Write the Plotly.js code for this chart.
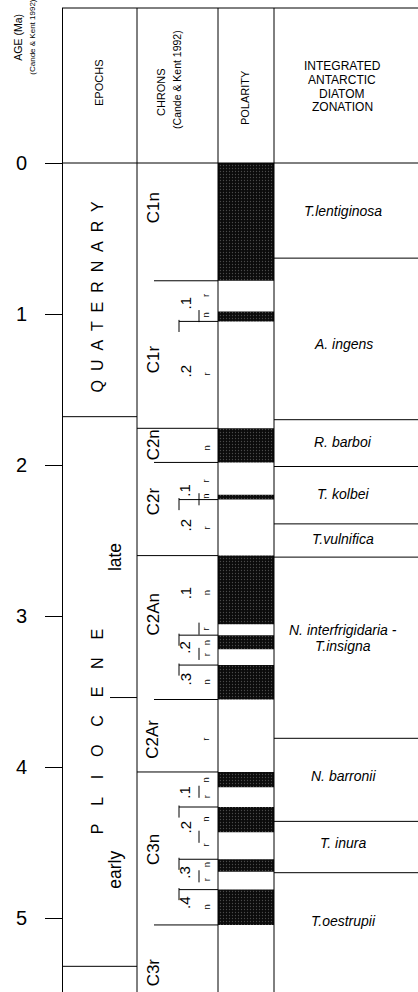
<!DOCTYPE html>
<html><head><meta charset="utf-8">
<script src="https://cdn.plot.ly/plotly-3.0.1.min.js"></script>
<style>html,body{margin:0;padding:0;background:#fff}#chart{width:418px;height:992px}</style>
</head><body><div id="chart"></div>
<script>
// ---- data (ages in Ma) ----
const ageTicks = [0, 1, 2, 3, 4, 5];
const normalStart = [0.000, 0.984, 1.757, 2.197, 2.600, 3.127, 3.325, 4.033, 4.265, 4.611, 4.812];
const normalEnd   = [0.780, 1.049, 1.983, 2.229, 3.054, 3.221, 3.553, 4.134, 4.432, 4.694, 5.046];

const epochBounds = [1.68, 5.32];
const subEpochBounds = [3.54];
const epochLabels = ["QUATERNARY", "PLIOCENE"];
const epochLabelAges = [0.89, 3.77];
const subEpochLabels = ["late", "early"];
const subEpochLabelAges = [2.61, 4.68];

const chronNames = ["C1n", "C1r", "C2n", "C2r", "C2An", "C2Ar", "C3n", "C3r"];
const chronLabelAges = [0.30, 1.30, 1.87, 2.24, 2.99, 3.82, 4.55, 5.36];
const seriesBounds = [1.757, 2.600, 4.033];
const chronBounds = [0.780, 1.983, 3.553, 5.046];
const subchronBounds = [1.049, 2.229, 3.127, 3.325, 4.265, 4.611, 4.812];
const nrBounds = [0.984, 2.197, 3.054, 3.221, 4.134, 4.432, 4.694];
const subchronLabels = [".1", ".2", ".1", ".2", ".1", ".2", ".3", ".1", ".2", ".3", ".4"];
const subchronLabelAges = [0.93, 1.38, 2.17, 2.40, 2.85, 3.21, 3.42, 4.17, 4.40, 4.70, 4.90];
const nrLabels = ["r", "n", "r", "n", "r", "n", "r", "n", "r", "n", "r", "n", "r", "n", "r", "n", "r", "n", "r", "n"];
const nrLabelAges = [0.88, 1.01, 1.40, 1.89, 2.11, 2.21, 2.42, 2.85, 3.09, 3.18, 3.26, 3.44, 3.82, 4.09, 4.20, 4.35, 4.52, 4.65, 4.75, 4.93];

const zoneNames = ["T.lentiginosa", "A. ingens", "R. barboi", "T. kolbei", "T.vulnifica",
                   "N. interfrigidaria -", "T.insigna", "N. barronii", "T. inura", "T.oestrupii"];
const zoneLabelAges = [0.32, 1.20, 1.85, 2.19, 2.49, 3.09, 3.20, 4.06, 4.50, 5.02];
const zoneBounds = [0.63, 1.70, 2.01, 2.39, 2.61, 3.81, 4.36, 4.70];

const headerZonation = ["INTEGRATED", "ANTARCTIC", "DIATOM", "ZONATION"];

// ---- layout constants (pixel-like x units) ----
const X_AXIS = 62, X_EPOCH = 62, X_CHRON = 137, X_POL = 218, X_ZONE = 274, X_END = 418;
const FONT = "Liberation Sans, Arial, Helvetica, sans-serif";
const line = {color: "#000", width: 1};

const shapes = [];
function hline(x0, x1, y, w) { shapes.push({type: "line", xref: "x", yref: "y", x0, x1, y0: y, y1: y, line: {color: "#000", width: w || 1}}); }
function vline(x, y0, y1) { shapes.push({type: "line", xref: "x", yref: "y", x0: x, x1: x, y0, y1, line}); }

[X_CHRON, X_POL, X_ZONE].forEach(x => shapes.push({type: "line", xref: "x", yref: "paper", x0: x, x1: x, y0: 0, y1: 1, line}));
shapes.push({type: "line", xref: "x", yref: "paper", x0: X_AXIS, x1: X_END, y0: 1, y1: 1, line});
hline(X_AXIS, X_END, 0);
epochBounds.forEach(a => hline(X_EPOCH, X_CHRON, a));
subEpochBounds.forEach(a => hline(110, X_CHRON, a));
seriesBounds.forEach(a => hline(X_CHRON, X_POL, a));
chronBounds.forEach(a => hline(154, X_POL, a));
subchronBounds.forEach(a => { hline(179, X_POL, a); vline(179, a - 0.01, a + 0.07); });
nrBounds.forEach(a => vline(199, a - 0.01, a + 0.07));
zoneBounds.forEach(a => hline(X_ZONE, X_END, a));

const annotations = [];
function txt(text, x, y, size, opts) {
  annotations.push(Object.assign({text, x, y, xref: "x", yref: "y", showarrow: false,
    font: {family: FONT, size, color: "#000"}, xanchor: "center", yanchor: "middle"}, opts || {}));
}
const rot = {textangle: -90};
const spaced = (s, n) => s.split("").join("\u00a0".repeat(n));

// header
txt("AGE (Ma)", 18, -0.83, 10.5, rot);
txt("(Cande &amp; Kent 1992)", 33, -0.83, 8, rot);
txt("EPOCHS", 99, -0.53, 11, rot);
txt("CHRONS", 161, -0.47, 11, rot);
txt("(Cande &amp; Kent 1992)", 177, -0.55, 10.5, rot);
txt("POLARITY", 245, -0.43, 11, rot);
headerZonation.forEach((t, i) => txt(t, 342, -0.64 + i * 0.09, 12));

// epochs
txt(spaced(epochLabels[0], 2), 97, epochLabelAges[0], 16, rot);
txt(spaced(epochLabels[1], 4), 97, epochLabelAges[1], 16, rot);
subEpochLabels.forEach((t, i) => txt(t, 115, subEpochLabelAges[i], 17.5, rot));

// chrons
chronNames.forEach((t, i) => txt(t, 153, chronLabelAges[i], 17, rot));
subchronLabels.forEach((t, i) => txt(t, 185, subchronLabelAges[i], 15, rot));
nrLabels.forEach((t, i) => txt(t, 206, nrLabelAges[i], 9.5, rot));

// zones
zoneNames.forEach((t, i) => txt(t, 343, zoneLabelAges[i], 14, {font: {family: FONT, size: 14, color: "#000", style: "italic"}}));

const polarity = {
  type: "bar",
  x: normalStart.map(() => (X_POL + X_ZONE) / 2),
  y: normalStart.map((s, i) => normalEnd[i] - s),
  base: normalStart,
  width: X_ZONE - X_POL,
  marker: {color: "#0b0b0b", line: {width: 0},
    pattern: {shape: ".", fgcolor: "#4a4a4a", bgcolor: "#0b0b0b", size: 3, solidity: 0.15, fillmode: "replace"}},
  hoverinfo: "skip", showlegend: false
};

const layout = {
  width: 418, height: 992,
  margin: {l: 0, r: 0, t: 8, b: 0},
  paper_bgcolor: "#fff", plot_bgcolor: "#fff",
  showlegend: false, barmode: "overlay",
  xaxis: {range: [0, 418], visible: false, fixedrange: true},
  yaxis: {range: [5.4901, -1.0265], anchor: "free", position: X_AXIS / 418,
    showline: true, linecolor: "#000", linewidth: 1, showgrid: false, zeroline: false,
    ticks: "outside", ticklen: 17, tickwidth: 1, tickcolor: "#000",
    tickmode: "array", tickvals: ageTicks, ticktext: ageTicks.map(String),
    tickfont: {family: FONT, size: 20, color: "#000"}, ticklabelstandoff: 14, fixedrange: true},
  shapes, annotations
};

Plotly.newPlot("chart", [polarity], layout, {staticPlot: true, displayModeBar: false});
</script>
</body></html>
